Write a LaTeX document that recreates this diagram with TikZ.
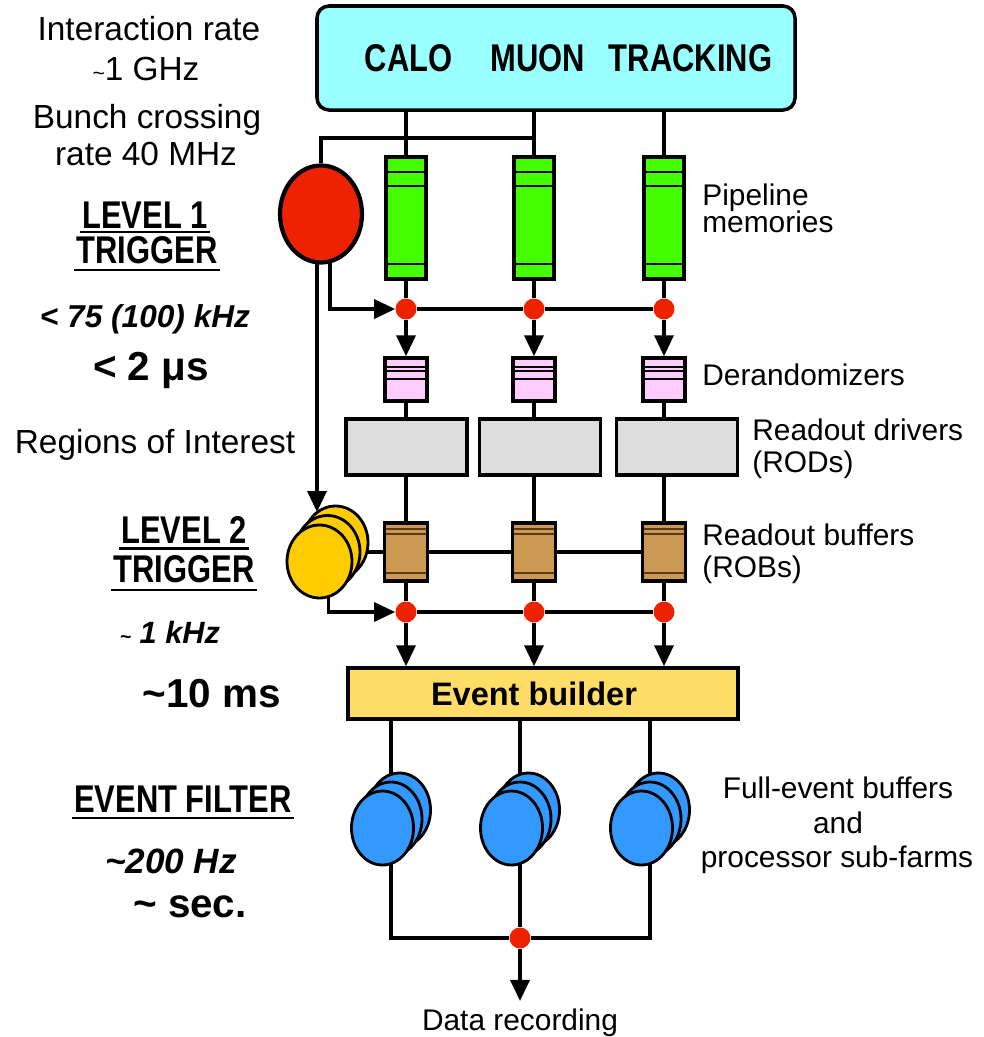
\documentclass[tikz,border=0pt]{standalone}
\usepackage{fontspec}
\setmainfont{Liberation Sans}
\newfontfamily\narrowfont[FakeStretch=0.8]{Liberation Sans}
\usepackage{tikz}
\usetikzlibrary{arrows.meta, positioning, shapes.geometric, backgrounds}
\definecolor{detcyan}{HTML}{99FFFF}
\definecolor{pipegreen}{HTML}{44FF00}
\definecolor{trigred}{HTML}{EE2200}
\definecolor{derpink}{HTML}{FFCCFF}
\definecolor{rodgray}{HTML}{DDDDDD}
\definecolor{robtan}{HTML}{CC9955}
\definecolor{robdark}{HTML}{5A3A14}
\definecolor{trigyellow}{HTML}{FFCC00}
\definecolor{evbyellow}{HTML}{FFDD66}
\definecolor{farmblue}{HTML}{3399FF}
\newcommand{\stripetop}[2][line width=1.4pt]{\draw[#1] ([yshift=-#2]path picture bounding box.north west) -- ([yshift=-#2]path picture bounding box.north east);}
\newcommand{\stripebot}[2][line width=1.4pt]{\draw[#1] ([yshift=#2]path picture bounding box.south west) -- ([yshift=#2]path picture bounding box.south east);}

\begin{document}
\begin{tikzpicture}[x=0.2mm, y=-0.2mm,
  every node/.style={font=\fontsize{17}{20}\selectfont},
  wire/.style={line width=2pt},
  arrow/.style={wire, -{Triangle[length=4.2mm, width=3.8mm]}},
  uline/.style={line width=1.5pt},
  box/.style={draw, line width=2pt, inner sep=0pt},
  detbox/.style={box, fill=detcyan, rounded corners=2.4mm, minimum width=95.6mm,
                 minimum height=20.8mm, font=\narrowfont\bfseries\fontsize{22}{26}\selectfont},
  pipe/.style={box, fill=pipegreen, minimum width=8mm, minimum height=24.4mm,
               path picture={\stripetop{3mm}\stripetop{5.8mm}\stripebot{3mm}}},
  derand/.style={box, fill=derpink, minimum width=8.4mm, minimum height=8.6mm,
                 path picture={\stripetop[line width=1.1pt]{1.8mm}\stripetop[line width=1.1pt]{2.6mm}\stripetop[line width=1.1pt]{4.2mm}}},
  rodbox/.style={box, fill=rodgray, minimum width=24.2mm, minimum height=11.2mm},
  robbox/.style={box, fill=robtan, minimum width=8.6mm, minimum height=11.6mm,
                 path picture={\stripetop[line width=1.1pt, robdark]{1.2mm}\stripetop[line width=1.1pt, robdark]{2.2mm}\stripebot[line width=1.3pt, robdark]{1.6mm}}},
  evbbox/.style={box, fill=evbyellow, minimum width=78mm, minimum height=10.2mm,
                 font=\bfseries\fontsize{18.5}{22}\selectfont},
  dot/.style={circle, fill=trigred, minimum size=4.2mm, inner sep=0pt},
  disk/.style={ellipse, draw, line width=1.6pt, inner sep=0pt},
  trigone/.style={ellipse, draw, line width=2.4pt, fill=trigred, inner sep=0pt,
                  minimum width=16.4mm, minimum height=19.4mm},
  trigtwo/.style={disk, fill=trigyellow, minimum width=13mm, minimum height=14.6mm},
  farm/.style={disk, fill=farmblue, minimum width=12.4mm, minimum height=14.8mm},
  lbl/.style={font=\fontsize{19}{23}\selectfont, inner sep=0pt, anchor=base},
  side/.style={font=\fontsize{17}{20}\selectfont, inner sep=0pt, anchor=base west},
  head/.style={font=\narrowfont\bfseries\fontsize{22}{26}\selectfont, inner xsep=1pt, inner ysep=0pt, anchor=base},
  rate/.style={font=\bfseries\itshape\fontsize{18}{22}\selectfont, inner sep=0pt, anchor=base},
  timing/.style={font=\bfseries\fontsize{23}{27}\selectfont, inner sep=0pt, anchor=base}
]
\useasboundingbox (0,0) rectangle (984,1037);

% detector and level 1
\node[detbox] (det) at (556,58) {\hspace*{5mm}CALO\hspace{7.6mm}MUON\hspace{4.8mm}TRACKING};
\node[pipe] (pm1) at (406,218) {};
\node[pipe] (pm2) at (534,218) {};
\node[pipe] (pm3) at (664,218) {};
\node[trigone] (lvone) at (321,214) {};
\coordinate (tap) at (534,138);

\node[dot] (ta1) at (406,309) {};
\node[dot] (ta2) at (534,309) {};
\node[dot] (ta3) at (664,309) {};

\node[derand] (der1) at (406,379.5) {};
\node[derand] (der2) at (534,379.5) {};
\node[derand] (der3) at (664,379.5) {};

\node[rodbox] (rod1) at (406.5,447) {};
\node[rodbox] (rod2) at (540,447) {};
\node[rodbox] (rod3) at (677,447) {};

% level 2
\node[trigtwo] (ltwoback) at (335.5,542.5) {};
\node[trigtwo] (ltwomid) at (327.5,552) {};
\node[trigtwo] (ltwo) at (319.5,561.5) {};
\coordinate (roi) at (317,512);

\node[robbox] (rob1) at (406,552) {};
\node[robbox] (rob2) at (534,552) {};
\node[robbox] (rob3) at (664,552) {};

\node[dot] (tb1) at (406,612) {};
\node[dot] (tb2) at (534,612) {};
\node[dot] (tb3) at (664,612) {};

\node[evbbox] (evb) at (543,693.5) {Event builder\hspace*{3.6mm}};

% event filter farms
\node[farm] (ef1back) at (399.5,810) {};
\node[farm] (ef1mid) at (391,819) {};
\node[farm] (ef1) at (382.5,828) {};
\node[farm] (ef2back) at (528.5,810) {};
\node[farm] (ef2mid) at (520,819) {};
\node[farm] (ef2) at (511.5,828) {};
\node[farm] (ef3back) at (658.5,810) {};
\node[farm] (ef3mid) at (650,819) {};
\node[farm] (ef3) at (641.5,828) {};

\node[dot] (fin) at (520,938) {};
\node[side, anchor=base, inner sep=4pt] (rec) at (520,1030) {Data recording};

\begin{scope}[on background layer]
\draw[wire] (det.south -| pm1) -- (pm1);
\draw[wire] (det.south -| pm2) -- (pm2);
\draw[wire] (det.south -| pm3) -- (pm3);
\draw[wire] (lvone) |- (tap);
\draw[wire] (pm1) -- (ta1);
\draw[wire] (pm2) -- (ta2);
\draw[wire] (pm3) -- (ta3);
\draw[arrow] ([xshift=1.8mm]lvone.center) |- (ta1);
\draw[wire] (ta1) -- (ta2) -- (ta3);
\draw[arrow] (ta1) -- (der1);
\draw[arrow] (ta2) -- (der2);
\draw[arrow] (ta3) -- (der3);
\draw[wire] (der1) -- (der1 |- rod1.north);
\draw[wire] (der2) -- (der2 |- rod2.north);
\draw[wire] (der3) -- (der3 |- rod3.north);
\draw[wire] (rob1 |- rod1.south) -- (rob1);
\draw[wire] (rob2 |- rod2.south) -- (rob2);
\draw[wire] (rob3 |- rod3.south) -- (rob3);
\draw[arrow] ([xshift=-0.8mm]lvone.center) -- (roi);
\draw[wire] (ltwomid) -- (rob1) -- (rob2) -- (rob3);
\draw[wire] (rob1) -- (tb1);
\draw[wire] (rob2) -- (tb2);
\draw[wire] (rob3) -- (tb3);
\draw[arrow] ([xshift=1.8mm]ltwo.center) |- (tb1);
\draw[wire] (tb1) -- (tb2) -- (tb3);
\draw[arrow] (tb1) -- (tb1 |- evb.north);
\draw[arrow] (tb2) -- (tb2 |- evb.north);
\draw[arrow] (tb3) -- (tb3 |- evb.north);
\draw[wire] (evb.south -| ef1mid) -- (ef1mid);
\draw[wire] (evb.south -| ef2mid) -- (ef2mid);
\draw[wire] (evb.south -| ef3mid) -- (ef3mid);
\draw[wire] (ef1mid) |- (fin);
\draw[wire] (ef2mid) -- (fin);
\draw[wire] (ef3mid) |- (fin);
\draw[arrow] (fin) -- (rec);
\end{scope}

% left column texts
\node[lbl] (intrate) at (149,40) {Interaction rate};
\node[lbl] (intghz) at (146,80) {{\fontsize{12}{12}\selectfont\textasciitilde}1 GHz};
\node[lbl] (bunch) at (147,128) {Bunch crossing};
\node[lbl] (bunchrate) at (146,165) {rate 40 MHz};
\node[head] (trigonea) at (145,228) {LEVEL 1};
\node[head] (trigoneb) at (147,263) {TRIGGER};
\draw[uline] ([yshift=-0.8mm]trigonea.base west) -- ([yshift=-0.8mm]trigonea.base east);
\draw[uline] ([yshift=-1.4mm]trigoneb.base west) -- ([yshift=-1.4mm]trigoneb.base east);
\node[rate] (trigonerate) at (145,327) {< 75 (100) kHz};
\node[timing] (trigonetime) at (151,380) {< 2 μs};
\node[lbl] (roitxt) at (155,453) {Regions of Interest};
\node[head] (trigtwoa) at (184,543) {LEVEL 2};
\node[head] (trigtwob) at (184,582) {TRIGGER};
\draw[uline] ([yshift=-1.1mm]trigtwoa.base west) -- ([yshift=-1.1mm]trigtwoa.base east);
\draw[uline] ([yshift=-1.6mm]trigtwob.base west) -- ([yshift=-1.6mm]trigtwob.base east);
\node[rate, font=\bfseries\itshape\fontsize{17.5}{21}\selectfont] (trigtworate) at (170,643) {{\fontsize{11}{11}\selectfont\textasciitilde} 1 kHz};
\node[timing] (trigtwotime) at (212,707) {\textasciitilde 10 ms};
\node[head] (eftxt) at (183,812) {EVENT FILTER};
\draw[uline] ([yshift=-1.2mm]eftxt.base west) -- ([yshift=-1.2mm]eftxt.base east);
\node[rate, font=\bfseries\itshape\fontsize{20}{24}\selectfont] (efrate) at (171,873) {\textasciitilde 200 Hz};
\node[timing] (eftime) at (190,917) {\textasciitilde{} sec.};

% right column texts
\node[side] (pipetxt) at (702,205) {Pipeline};
\node[side] (memtxt) at (702,232) {memories};
\node[side] (dertxt) at (702,385) {Derandomizers};
\node[side] (rodtxt) at (752,440) {Readout drivers};
\node[side] (rodtxtb) at (752,472) {(RODs)};
\node[side] (robtxt) at (702,545) {Readout buffers};
\node[side] (robtxtb) at (702,577) {(ROBs)};
\node[side, anchor=base] (farmtxt) at (838,798) {Full-event buffers};
\node[side, anchor=base] (andtxt) at (838,833) {and};
\node[side, anchor=base] (proctxt) at (837,867) {processor sub-farms};

\end{tikzpicture}
\end{document}
